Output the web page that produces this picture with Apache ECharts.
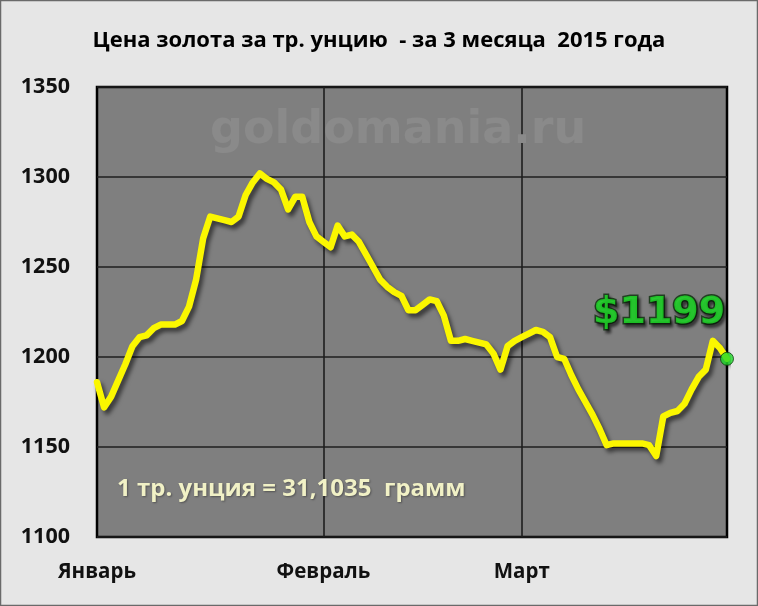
<!DOCTYPE html>
<html>
<head>
<meta charset="utf-8">
<script src="https://cdn.jsdelivr.net/npm/echarts@6/dist/echarts.min.js"></script>
<style>
html,body{margin:0;padding:0;background:#e6e6e6;}
#chart{width:758px;height:606px;}
</style>
</head>
<body>
<div id="chart"></div>
<script>
// Gold price, USD per troy ounce, Jan–Mar 2015
var prices = [
  1186,1172,1178,1187,1196,1206,1211,1212,1216,1218,
  1218,1218,1220,1228,1243,1266,1278,1277,1276,1275,
  1278,1290,1297,1302,1299,1297,1293,1282,1289,1289,
  1275,1267,1264,1261,1273,1267,1268,1264,1257,1250,
  1243,1239,1236,1234,1226,1226,1229,1232,1231,1223,
  1209,1209,1210,1209,1208,1207,1202,1193,1206,1209,
  1211,1213,1215,1214,1211,1200,1199,1190,1182,1175,
  1168,1160,1151,1152,1152,1152,1152,1152,1151,1145,
  1167,1169,1170,1174,1182,1189,1193,1209,1205,1199
];
var monthLabels = ['Январь', 'Февраль', 'Март'];
var monthStartIdx = [0, 32, 60];
var yTicks = [1100, 1150, 1200, 1250, 1300, 1350];
var titleText = 'Цена золота за тр. унцию  - за 3 месяца  2015 года';
var noteText = '1 тр. унция = 31,1035  грамм';
var watermark = 'goldomania.ru';

var categories = prices.map(function (v, i) {
  var k = monthStartIdx.indexOf(i);
  return k >= 0 ? monthLabels[k] : String(i + 1);
});
var lastIdx = prices.length - 1;

var chart = echarts.init(document.getElementById('chart'));
chart.setOption({
  backgroundColor: '#e6e6e6',
  animation: false,
  title: {
    text: titleText,
    left: 'center',
    top: 25,
    textStyle: { fontFamily: 'Open Sans', fontWeight: 'bold', fontSize: 22, color: '#000' }
  },
  grid: {
    left: 97, top: 87, width: 630, height: 450,
    show: true, backgroundColor: '#7f7f7f', borderColor: '#000', borderWidth: 2.5, z: 0
  },
  xAxis: {
    type: 'category',
    data: categories,
    boundaryGap: false,
    axisLine: { show: false },
    axisTick: { show: false },
    axisLabel: {
      interval: function (i) { return monthStartIdx.indexOf(i) >= 0; },
      margin: 25,
      fontFamily: 'Open Sans', fontWeight: 'bold', fontSize: 20.5, color: '#111'
    },
    splitLine: {
      show: true,
      interval: function (i) { return monthStartIdx.indexOf(i) > 0; },
      lineStyle: { color: '#1e1e1e', width: 1.6 }
    }
  },
  yAxis: {
    type: 'value',
    min: yTicks[0], max: yTicks[yTicks.length - 1], interval: 50,
    axisLine: { show: false },
    axisTick: { show: false },
    axisLabel: {
      margin: 27,
      formatter: function (v) { return String(v); },
      fontFamily: 'Open Sans', fontWeight: 'bold', fontSize: 21.5, color: '#111'
    },
    splitLine: { show: true, lineStyle: { color: '#1e1e1e', width: 1.6 } }
  },
  graphic: [
    {
      type: 'rect', z: -10, silent: true,
      shape: { x: 0.5, y: 0.5, width: 757, height: 605 },
      style: { fill: null, stroke: '#6a6a6a', lineWidth: 1.5 }
    },
    {
      type: 'text', z: 1, silent: true,
      left: 210, top: 108,
      style: { text: watermark, fill: '#8a8a8a', font: 'bold 46px "DejaVu Sans"' }
    },
    {
      type: 'text', z: 5, silent: true,
      left: 117, top: 477,
      style: {
        text: noteText, fill: '#f1f1c6', font: 'bold 24px "Open Sans"',
        textShadowColor: 'rgba(0,0,0,0.35)', textShadowBlur: 2, textShadowOffsetX: 1, textShadowOffsetY: 1
      }
    }
  ],
  series: [
    {
      type: 'line',
      data: prices,
      showSymbol: false,
      symbol: 'none',
      z: 3,
      lineStyle: {
        color: '#fbf700', width: 6.5, join: 'round', cap: 'round',
        shadowColor: 'rgba(0,0,0,0.55)', shadowBlur: 4, shadowOffsetX: 3, shadowOffsetY: 4
      }
    },
    {
      type: 'scatter',
      z: 4,
      data: [[lastIdx, prices[lastIdx]]],
      symbol: 'circle',
      symbolSize: 13,
      itemStyle: { color: '#1fd92a', borderColor: '#0d3d0d', borderWidth: 1 },
      label: {
        show: true,
        position: [-127, -58],
        formatter: function (p) { return '$' + p.value[1]; },
        fontFamily: 'DejaVu Sans', fontWeight: 'bold', fontSize: 38,
        color: '#21e62a',
        textBorderColor: '#0b300b', textBorderWidth: 3,
        textShadowColor: 'rgba(0,0,0,0.6)', textShadowBlur: 3, textShadowOffsetX: 2, textShadowOffsetY: 3
      }
    }
  ]
});
</script>
</body>
</html>
